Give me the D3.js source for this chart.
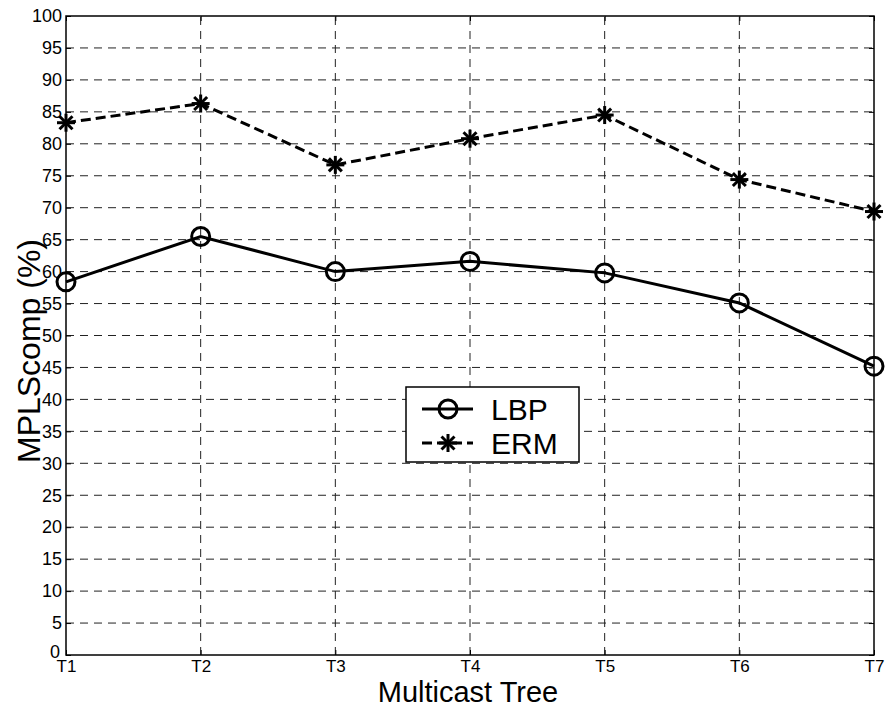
<!DOCTYPE html>
<html>
<head>
<meta charset="utf-8">
<script src="https://cdn.jsdelivr.net/npm/d3@7"></script>
<style>
  html, body { margin: 0; padding: 0; background: #fff; }
  svg { display: block; font-family: Arial, "Liberation Sans", Helvetica, sans-serif; }
</style>
</head>
<body>
<svg id="chart" width="890" height="710"></svg>
<script>
// Multicast trees on the x axis
const trees = ["T1", "T2", "T3", "T4", "T5", "T6", "T7"];
// MPLScomp (%) per tree for each scheme
const lbpValues = [58.4, 65.5, 60.0, 61.6, 59.8, 55.1, 45.2];
const ermValues = [83.3, 86.3, 76.7, 80.8, 84.5, 74.4, 69.4];
// Y axis ticks
const yTicks = d3.range(0, 101, 5);

const margin = { left: 66, right: 16, top: 16, bottom: 55 };
const W = 890, H = 710;
const svg = d3.select("#chart");

const x = d3.scalePoint().domain(trees).range([margin.left, W - margin.right]);
const y = d3.scaleLinear().domain([0, 100]).range([H - margin.bottom, margin.top]);

const x0 = margin.left, x1 = W - margin.right;
const y0 = H - margin.bottom, y1 = margin.top;

// dashed grid
const grid = svg.append("g").attr("stroke", "#222").attr("stroke-width", 1)
  .attr("stroke-dasharray", "8,6");
grid.selectAll("line.h").data(yTicks.filter(d => d > 0 && d < 100)).join("line")
  .attr("x1", x0).attr("x2", x1)
  .attr("y1", d => y(d)).attr("y2", d => y(d));
grid.selectAll("line.v").data(trees.slice(1, -1)).join("line")
  .attr("y1", y0).attr("y2", y1)
  .attr("x1", d => x(d)).attr("x2", d => x(d));

// axes (ticks pointing inward, box on all sides)
const yAxis = d3.axisLeft(y).tickValues(yTicks).tickSizeInner(-5).tickSizeOuter(0).tickPadding(4);
const gy = svg.append("g").attr("transform", `translate(${x0},0)`).call(yAxis);
gy.select(".domain").remove();
gy.selectAll("text").attr("font-size", 18).attr("fill", "#000").attr("font-family", "Arial, 'Liberation Sans', sans-serif")
  .attr("dy", d => d === 0 ? "0.12em" : "0.32em")
  .attr("x", d => d === 0 ? -6 : -4);
gy.selectAll("line").attr("stroke", "#000");

const gyr = svg.append("g").attr("transform", `translate(${x1},0)`)
  .call(d3.axisRight(y).tickValues(yTicks).tickSizeInner(-5).tickSizeOuter(0).tickFormat(""));
gyr.select(".domain").remove();

const xAxis = d3.axisBottom(x).tickSizeInner(-5).tickSizeOuter(0).tickPadding(5);
const gx = svg.append("g").attr("transform", `translate(0,${y0})`).call(xAxis);
gx.select(".domain").remove();
gx.selectAll("text").attr("font-size", 17).attr("fill", "#000").attr("font-family", "Arial, 'Liberation Sans', sans-serif");
gx.selectAll("line").attr("stroke", "#000");

const gxt = svg.append("g").attr("transform", `translate(0,${y1})`)
  .call(d3.axisTop(x).tickSizeInner(-5).tickSizeOuter(0).tickFormat(""));
gxt.select(".domain").remove();

svg.append("rect").attr("x", x0).attr("y", y1).attr("width", x1 - x0).attr("height", y0 - y1)
  .attr("fill", "none").attr("stroke", "#000").attr("stroke-width", 1.5);

// series lines
const line = d3.line().x((d, i) => x(trees[i])).y(d => y(d));
svg.append("path").datum(lbpValues).attr("d", line)
  .attr("fill", "none").attr("stroke", "#000").attr("stroke-width", 3);
svg.append("path").datum(ermValues).attr("d", line)
  .attr("fill", "none").attr("stroke", "#000").attr("stroke-width", 3)
  .attr("stroke-dasharray", "10,5");

// markers
function circleMarker(g, cx, cy) {
  g.append("circle").attr("cx", cx).attr("cy", cy).attr("r", 9)
    .attr("fill", "none").attr("stroke", "#000").attr("stroke-width", 3);
}
function starMarker(g, cx, cy) {
  const r = 9, d = r * 0.72;
  const segs = [[-r, 0, r, 0], [0, -r, 0, r], [-d, -d, d, d], [-d, d, d, -d]];
  segs.forEach(s => g.append("line")
    .attr("x1", cx + s[0]).attr("y1", cy + s[1]).attr("x2", cx + s[2]).attr("y2", cy + s[3])
    .attr("stroke", "#000").attr("stroke-width", 3));
}
const markers = svg.append("g");
lbpValues.forEach((v, i) => circleMarker(markers, x(trees[i]), y(v)));
ermValues.forEach((v, i) => starMarker(markers, x(trees[i]), y(v)));

// axis titles
svg.append("text").attr("x", (x0 + x1) / 2 - 2).attr("y", 702)
  .attr("text-anchor", "middle").attr("font-size", 29).attr("fill", "#000")
  .text("Multicast Tree");
svg.append("text").attr("transform", `translate(40,351) rotate(-90)`)
  .attr("text-anchor", "middle").attr("font-size", 32).attr("fill", "#000")
  .text("MPLScomp (%)");

// legend
const lg = svg.append("g");
lg.append("rect").attr("x", 406).attr("y", 387).attr("width", 173).attr("height", 75)
  .attr("fill", "#fff").attr("stroke", "#000").attr("stroke-width", 1.5);
const legendItems = [
  { name: "LBP", dash: null, marker: circleMarker, cy: 409 },
  { name: "ERM", dash: "10,5", marker: starMarker, cy: 443 }
];
legendItems.forEach(it => {
  lg.append("line").attr("x1", 422).attr("x2", 473).attr("y1", it.cy).attr("y2", it.cy)
    .attr("stroke", "#000").attr("stroke-width", 3).attr("stroke-dasharray", it.dash);
  it.marker(lg, 448, it.cy);
  lg.append("text").attr("x", 491).attr("y", it.cy + 11).attr("font-size", 30).attr("fill", "#000")
    .text(it.name);
});
</script>
</body>
</html>
